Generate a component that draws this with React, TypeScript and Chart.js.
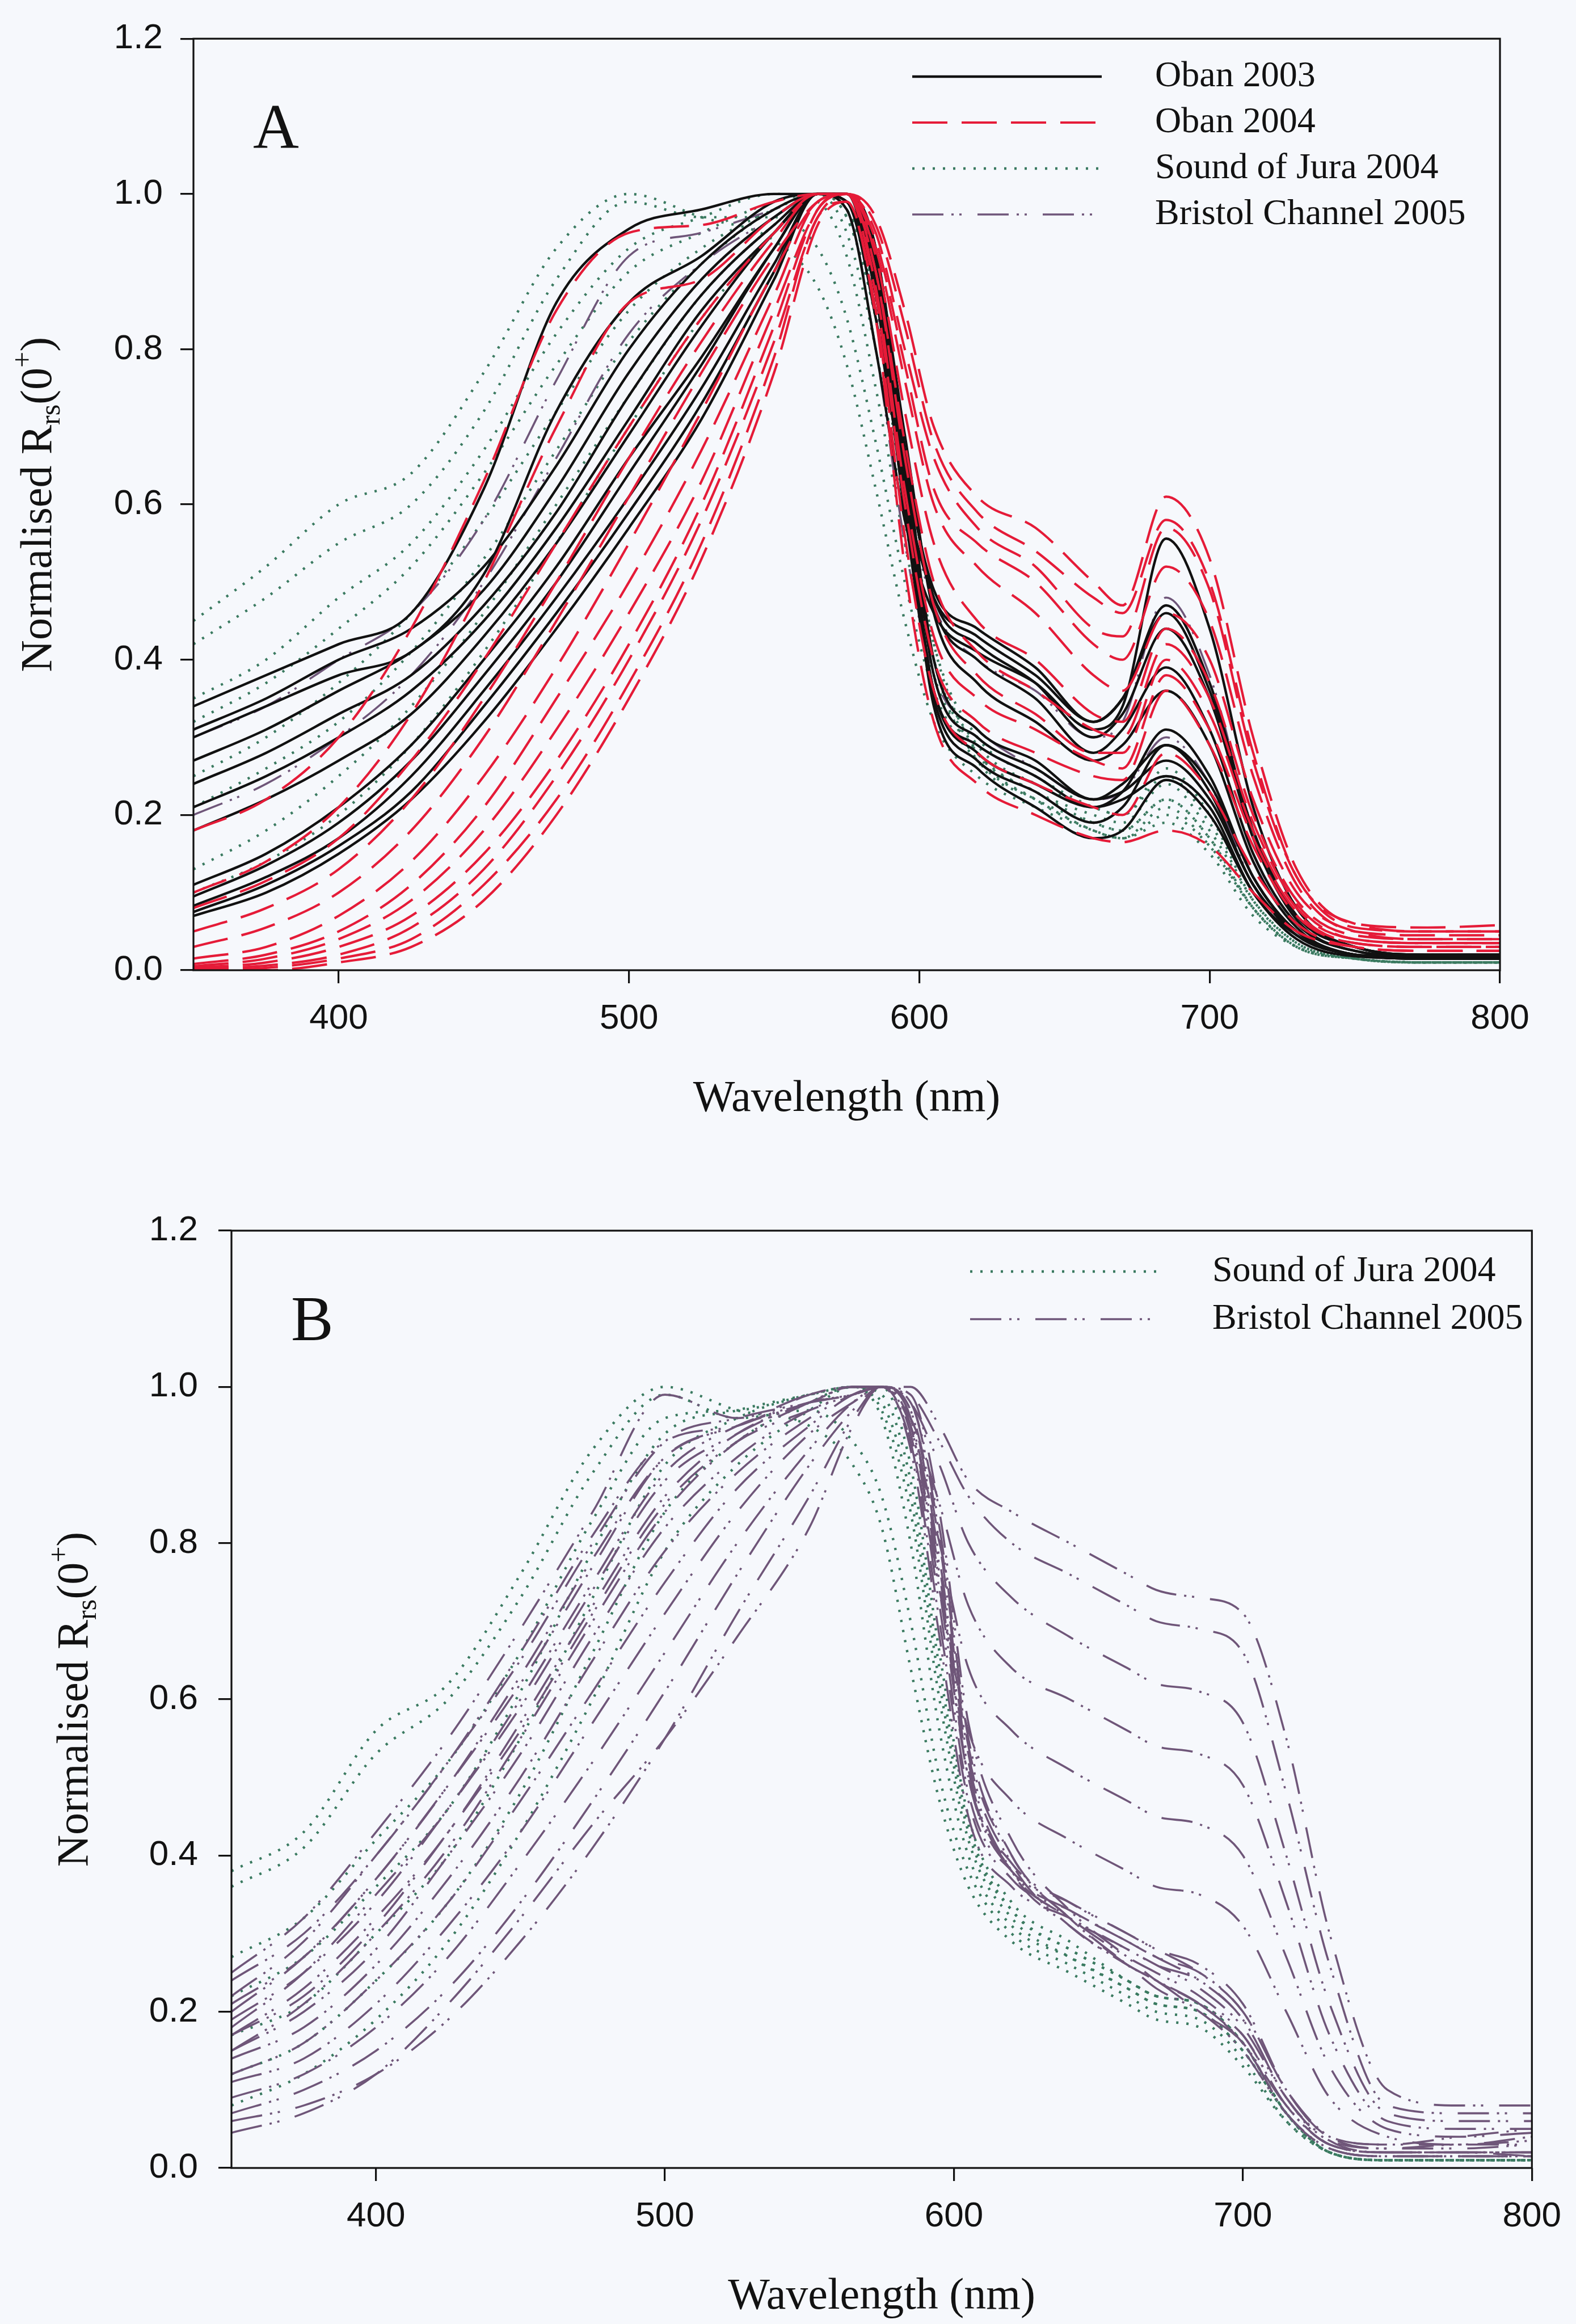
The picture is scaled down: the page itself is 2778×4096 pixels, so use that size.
import React, { useEffect, useRef } from 'react';
import { Chart, registerables } from 'chart.js';

Chart.register(...registerables);

// ---------------- data ----------------
const wavelengths = [350, 375, 400, 425, 450, 475, 500, 525, 550, 565, 575, 585, 595, 605, 620, 640, 660, 670, 685, 700, 715, 730, 750, 775, 800];
const xTickValues = [400, 500, 600, 700, 800];
const yTickValues = [0, 0.2, 0.4, 0.6, 0.8, 1.0, 1.2];
const xTitle = 'Wavelength (nm)';

// Panel A
const oban2003 = [
  [0.34, 0.38, 0.42, 0.46, 0.62, 0.86, 0.955, 0.98, 1.0, 1.0, 0.98, 0.80, 0.58, 0.46, 0.41, 0.37, 0.31, 0.34, 0.556, 0.44, 0.21, 0.08, 0.03, 0.02, 0.02],
  [0.30, 0.34, 0.38, 0.41, 0.51, 0.72, 0.86, 0.92, 0.99, 1.0, 0.99, 0.84, 0.62, 0.48, 0.43, 0.38, 0.32, 0.35, 0.47, 0.37, 0.18, 0.07, 0.03, 0.02, 0.02],
  [0.31, 0.35, 0.40, 0.44, 0.52, 0.65, 0.80, 0.91, 0.98, 1.0, 1.0, 0.87, 0.65, 0.49, 0.44, 0.39, 0.32, 0.35, 0.46, 0.36, 0.18, 0.07, 0.03, 0.02, 0.02],
  [0.27, 0.31, 0.36, 0.41, 0.49, 0.62, 0.77, 0.89, 0.97, 1.0, 1.0, 0.89, 0.66, 0.48, 0.42, 0.37, 0.30, 0.33, 0.44, 0.35, 0.17, 0.065, 0.025, 0.018, 0.018],
  [0.24, 0.28, 0.33, 0.38, 0.47, 0.59, 0.74, 0.87, 0.96, 1.0, 1.0, 0.91, 0.67, 0.47, 0.40, 0.35, 0.28, 0.31, 0.39, 0.31, 0.15, 0.06, 0.025, 0.018, 0.018],
  [0.21, 0.25, 0.30, 0.36, 0.45, 0.57, 0.71, 0.85, 0.95, 1.0, 1.0, 0.92, 0.69, 0.46, 0.37, 0.32, 0.27, 0.29, 0.36, 0.29, 0.14, 0.055, 0.02, 0.018, 0.018],
  [0.18, 0.22, 0.27, 0.33, 0.43, 0.55, 0.69, 0.83, 0.95, 1.0, 1.0, 0.93, 0.67, 0.40, 0.31, 0.27, 0.22, 0.24, 0.29, 0.24, 0.12, 0.05, 0.02, 0.015, 0.015],
  [0.11, 0.15, 0.21, 0.29, 0.40, 0.52, 0.66, 0.79, 0.93, 1.0, 0.99, 0.88, 0.60, 0.36, 0.28, 0.24, 0.21, 0.22, 0.25, 0.21, 0.10, 0.045, 0.02, 0.015, 0.015],
  [0.095, 0.135, 0.19, 0.27, 0.38, 0.50, 0.64, 0.78, 0.93, 1.0, 0.99, 0.87, 0.59, 0.35, 0.27, 0.23, 0.19, 0.21, 0.29, 0.23, 0.11, 0.05, 0.02, 0.015, 0.015],
  [0.083, 0.12, 0.17, 0.25, 0.36, 0.48, 0.61, 0.75, 0.91, 1.0, 1.0, 0.90, 0.62, 0.34, 0.26, 0.21, 0.17, 0.18, 0.245, 0.20, 0.10, 0.04, 0.018, 0.015, 0.015],
  [0.075, 0.11, 0.16, 0.23, 0.34, 0.46, 0.59, 0.73, 0.90, 1.0, 1.0, 0.91, 0.64, 0.36, 0.29, 0.25, 0.21, 0.23, 0.31, 0.25, 0.12, 0.05, 0.02, 0.015, 0.015],
  [0.07, 0.10, 0.15, 0.22, 0.32, 0.44, 0.57, 0.71, 0.89, 1.0, 1.0, 0.93, 0.66, 0.38, 0.30, 0.26, 0.22, 0.23, 0.27, 0.22, 0.11, 0.045, 0.02, 0.015, 0.015],
];

const oban2004 = [
  [0.18, 0.22, 0.30, 0.44, 0.63, 0.85, 0.95, 0.96, 0.99, 1.0, 1.0, 0.97, 0.85, 0.70, 0.61, 0.57, 0.50, 0.47, 0.61, 0.53, 0.30, 0.13, 0.06, 0.055, 0.058],
  [0.10, 0.14, 0.21, 0.33, 0.50, 0.70, 0.86, 0.89, 0.97, 1.0, 1.0, 0.96, 0.83, 0.68, 0.59, 0.54, 0.48, 0.46, 0.58, 0.50, 0.28, 0.12, 0.06, 0.05, 0.05],
  [0.08, 0.115, 0.17, 0.27, 0.40, 0.55, 0.70, 0.84, 0.95, 1.0, 1.0, 0.95, 0.80, 0.66, 0.57, 0.52, 0.44, 0.43, 0.57, 0.49, 0.27, 0.12, 0.055, 0.05, 0.05],
  [0.05, 0.08, 0.13, 0.22, 0.35, 0.50, 0.66, 0.81, 0.94, 1.0, 1.0, 0.94, 0.78, 0.62, 0.55, 0.50, 0.42, 0.40, 0.52, 0.45, 0.25, 0.11, 0.05, 0.045, 0.045],
  [0.03, 0.055, 0.10, 0.18, 0.30, 0.45, 0.61, 0.77, 0.92, 0.99, 1.0, 0.93, 0.76, 0.60, 0.52, 0.46, 0.38, 0.36, 0.46, 0.40, 0.22, 0.10, 0.05, 0.04, 0.04],
  [0.015, 0.03, 0.07, 0.14, 0.25, 0.39, 0.55, 0.72, 0.90, 0.99, 1.0, 0.92, 0.72, 0.55, 0.45, 0.40, 0.33, 0.32, 0.44, 0.37, 0.20, 0.09, 0.045, 0.04, 0.04],
  [0.008, 0.02, 0.05, 0.11, 0.21, 0.35, 0.50, 0.67, 0.87, 0.99, 1.0, 0.90, 0.68, 0.50, 0.41, 0.36, 0.31, 0.30, 0.42, 0.35, 0.19, 0.085, 0.04, 0.035, 0.035],
  [0.005, 0.015, 0.04, 0.09, 0.18, 0.31, 0.46, 0.63, 0.85, 0.98, 1.0, 0.90, 0.66, 0.47, 0.38, 0.33, 0.28, 0.28, 0.40, 0.33, 0.18, 0.08, 0.04, 0.035, 0.035],
  [0.003, 0.01, 0.03, 0.07, 0.15, 0.27, 0.42, 0.60, 0.83, 0.98, 1.0, 0.88, 0.62, 0.43, 0.35, 0.31, 0.27, 0.26, 0.38, 0.31, 0.17, 0.075, 0.035, 0.03, 0.03],
  [0.002, 0.006, 0.02, 0.055, 0.13, 0.25, 0.40, 0.58, 0.81, 0.97, 1.0, 0.87, 0.60, 0.40, 0.32, 0.28, 0.25, 0.245, 0.36, 0.29, 0.16, 0.07, 0.035, 0.03, 0.03],
  [0.0, 0.003, 0.015, 0.04, 0.11, 0.22, 0.37, 0.55, 0.79, 0.97, 0.99, 0.85, 0.56, 0.36, 0.28, 0.24, 0.21, 0.20, 0.28, 0.23, 0.13, 0.06, 0.03, 0.025, 0.025],
  [0.0, 0.0, 0.01, 0.03, 0.09, 0.20, 0.35, 0.53, 0.77, 0.96, 0.99, 0.84, 0.52, 0.32, 0.24, 0.20, 0.17, 0.165, 0.18, 0.16, 0.10, 0.05, 0.03, 0.025, 0.025],
];

const soundOfJuraA = [
  [0.45, 0.52, 0.60, 0.64, 0.77, 0.93, 1.0, 0.97, 0.94, 0.88, 0.78, 0.62, 0.45, 0.32, 0.25, 0.21, 0.18, 0.17, 0.21, 0.16, 0.08, 0.03, 0.015, 0.01, 0.01],
  [0.42, 0.48, 0.55, 0.60, 0.72, 0.89, 0.99, 0.97, 0.97, 0.93, 0.84, 0.68, 0.50, 0.36, 0.27, 0.22, 0.19, 0.18, 0.22, 0.17, 0.08, 0.03, 0.015, 0.01, 0.01],
  [0.35, 0.40, 0.48, 0.55, 0.67, 0.82, 0.93, 0.97, 1.0, 0.99, 0.92, 0.75, 0.55, 0.38, 0.28, 0.23, 0.20, 0.19, 0.24, 0.18, 0.09, 0.035, 0.015, 0.01, 0.01],
  [0.32, 0.37, 0.44, 0.52, 0.64, 0.78, 0.90, 0.95, 0.99, 1.0, 0.95, 0.80, 0.58, 0.40, 0.29, 0.24, 0.21, 0.20, 0.26, 0.20, 0.09, 0.035, 0.015, 0.01, 0.01],
  [0.25, 0.30, 0.37, 0.46, 0.58, 0.72, 0.85, 0.93, 0.98, 1.0, 0.97, 0.84, 0.62, 0.42, 0.30, 0.25, 0.21, 0.20, 0.25, 0.19, 0.09, 0.035, 0.015, 0.01, 0.01],
  [0.21, 0.26, 0.32, 0.41, 0.53, 0.67, 0.81, 0.91, 0.98, 1.0, 0.97, 0.84, 0.60, 0.40, 0.28, 0.23, 0.19, 0.18, 0.22, 0.17, 0.08, 0.03, 0.015, 0.01, 0.01],
  [0.13, 0.18, 0.25, 0.34, 0.46, 0.60, 0.74, 0.87, 0.96, 1.0, 0.98, 0.86, 0.62, 0.40, 0.27, 0.22, 0.18, 0.17, 0.20, 0.16, 0.08, 0.03, 0.015, 0.01, 0.01],
  [0.10, 0.14, 0.20, 0.29, 0.41, 0.55, 0.70, 0.84, 0.95, 1.0, 0.98, 0.87, 0.64, 0.42, 0.28, 0.22, 0.18, 0.17, 0.19, 0.15, 0.07, 0.03, 0.015, 0.01, 0.01],
];

const bristolChannelA = [
  [0.30, 0.34, 0.40, 0.46, 0.58, 0.76, 0.92, 0.95, 0.98, 1.0, 0.99, 0.85, 0.62, 0.47, 0.40, 0.36, 0.30, 0.32, 0.48, 0.38, 0.18, 0.07, 0.03, 0.02, 0.02],
  [0.20, 0.24, 0.30, 0.38, 0.50, 0.66, 0.82, 0.91, 0.97, 1.0, 0.98, 0.80, 0.55, 0.38, 0.31, 0.26, 0.22, 0.23, 0.30, 0.24, 0.11, 0.045, 0.02, 0.015, 0.015],
];

// Panel B
const soundOfJuraB = [
  [0.38, 0.43, 0.56, 0.62, 0.76, 0.92, 1.0, 0.97, 0.95, 0.90, 0.82, 0.64, 0.47, 0.36, 0.29, 0.25, 0.21, 0.19, 0.18, 0.13, 0.06, 0.02, 0.01, 0.01, 0.01],
  [0.36, 0.41, 0.53, 0.60, 0.73, 0.89, 0.99, 0.96, 0.97, 0.93, 0.86, 0.70, 0.50, 0.38, 0.30, 0.26, 0.22, 0.20, 0.19, 0.14, 0.06, 0.02, 0.01, 0.01, 0.01],
  [0.27, 0.32, 0.42, 0.52, 0.66, 0.83, 0.96, 0.97, 0.99, 1.0, 0.96, 0.80, 0.56, 0.40, 0.31, 0.27, 0.23, 0.21, 0.20, 0.15, 0.07, 0.02, 0.01, 0.01, 0.01],
  [0.22, 0.27, 0.36, 0.46, 0.61, 0.79, 0.94, 0.97, 0.99, 1.0, 0.97, 0.84, 0.60, 0.42, 0.32, 0.27, 0.23, 0.21, 0.20, 0.15, 0.07, 0.02, 0.01, 0.01, 0.01],
  [0.17, 0.21, 0.30, 0.40, 0.55, 0.73, 0.90, 0.96, 0.99, 1.0, 0.98, 0.86, 0.62, 0.43, 0.33, 0.28, 0.24, 0.22, 0.21, 0.16, 0.07, 0.02, 0.01, 0.01, 0.01],
  [0.12, 0.16, 0.24, 0.34, 0.48, 0.66, 0.84, 0.93, 0.98, 1.0, 0.99, 0.88, 0.64, 0.44, 0.33, 0.28, 0.24, 0.22, 0.21, 0.16, 0.07, 0.02, 0.01, 0.01, 0.01],
  [0.08, 0.12, 0.19, 0.29, 0.43, 0.60, 0.79, 0.90, 0.97, 1.0, 1.0, 0.90, 0.66, 0.45, 0.34, 0.29, 0.24, 0.22, 0.21, 0.16, 0.07, 0.02, 0.01, 0.01, 0.01],
];

const bristolChannelB = [
  [0.25, 0.32, 0.43, 0.55, 0.69, 0.84, 0.99, 0.96, 0.99, 1.0, 1.0, 1.0, 0.95, 0.88, 0.84, 0.80, 0.76, 0.74, 0.73, 0.71, 0.55, 0.30, 0.10, 0.08, 0.08],
  [0.22, 0.29, 0.40, 0.52, 0.66, 0.81, 0.93, 0.95, 0.99, 1.0, 1.0, 0.99, 0.93, 0.86, 0.80, 0.76, 0.72, 0.70, 0.69, 0.66, 0.48, 0.26, 0.08, 0.07, 0.07],
  [0.20, 0.27, 0.37, 0.49, 0.63, 0.78, 0.91, 0.95, 0.98, 1.0, 1.0, 0.98, 0.90, 0.80, 0.73, 0.68, 0.64, 0.62, 0.61, 0.57, 0.40, 0.21, 0.07, 0.06, 0.06],
  [0.18, 0.25, 0.35, 0.46, 0.60, 0.75, 0.89, 0.95, 0.98, 1.0, 1.0, 0.96, 0.85, 0.72, 0.64, 0.60, 0.56, 0.54, 0.53, 0.49, 0.34, 0.17, 0.06, 0.05, 0.05],
  [0.17, 0.23, 0.32, 0.43, 0.57, 0.72, 0.86, 0.94, 0.98, 1.0, 1.0, 0.95, 0.80, 0.64, 0.56, 0.51, 0.47, 0.45, 0.44, 0.40, 0.27, 0.13, 0.05, 0.04, 0.045],
  [0.15, 0.21, 0.30, 0.41, 0.55, 0.70, 0.84, 0.93, 0.98, 1.0, 1.0, 0.93, 0.74, 0.56, 0.47, 0.42, 0.38, 0.36, 0.35, 0.31, 0.20, 0.09, 0.04, 0.03, 0.035],
  [0.24, 0.30, 0.40, 0.52, 0.65, 0.80, 0.93, 0.96, 0.98, 0.99, 1.0, 0.93, 0.70, 0.47, 0.37, 0.33, 0.29, 0.27, 0.25, 0.20, 0.10, 0.04, 0.03, 0.03, 0.04],
  [0.21, 0.27, 0.37, 0.49, 0.62, 0.77, 0.91, 0.95, 0.98, 0.99, 1.0, 0.92, 0.68, 0.45, 0.36, 0.32, 0.28, 0.26, 0.24, 0.19, 0.09, 0.035, 0.025, 0.03, 0.03],
  [0.19, 0.25, 0.34, 0.46, 0.59, 0.74, 0.88, 0.94, 0.98, 0.99, 1.0, 0.94, 0.72, 0.48, 0.38, 0.34, 0.30, 0.28, 0.26, 0.21, 0.10, 0.04, 0.03, 0.04, 0.05],
  [0.17, 0.22, 0.31, 0.43, 0.56, 0.71, 0.85, 0.93, 0.97, 0.99, 1.0, 0.95, 0.74, 0.50, 0.39, 0.34, 0.30, 0.28, 0.25, 0.20, 0.10, 0.04, 0.025, 0.025, 0.03],
  [0.15, 0.20, 0.28, 0.40, 0.53, 0.68, 0.82, 0.91, 0.97, 0.99, 1.0, 0.95, 0.75, 0.50, 0.38, 0.33, 0.29, 0.27, 0.24, 0.19, 0.09, 0.035, 0.02, 0.02, 0.02],
  [0.14, 0.18, 0.26, 0.37, 0.50, 0.65, 0.79, 0.89, 0.96, 0.99, 1.0, 0.96, 0.76, 0.50, 0.38, 0.32, 0.28, 0.26, 0.23, 0.18, 0.09, 0.03, 0.02, 0.02, 0.02],
  [0.12, 0.16, 0.24, 0.34, 0.47, 0.61, 0.75, 0.87, 0.95, 0.99, 1.0, 0.96, 0.77, 0.51, 0.38, 0.32, 0.27, 0.25, 0.22, 0.17, 0.08, 0.03, 0.02, 0.02, 0.02],
  [0.11, 0.14, 0.21, 0.31, 0.43, 0.57, 0.71, 0.84, 0.94, 0.98, 1.0, 0.97, 0.78, 0.52, 0.38, 0.31, 0.26, 0.24, 0.21, 0.17, 0.08, 0.03, 0.02, 0.02, 0.02],
  [0.09, 0.12, 0.18, 0.27, 0.39, 0.52, 0.66, 0.80, 0.92, 0.98, 1.0, 0.97, 0.80, 0.53, 0.39, 0.31, 0.26, 0.24, 0.21, 0.16, 0.08, 0.03, 0.02, 0.02, 0.015],
  [0.07, 0.10, 0.15, 0.23, 0.34, 0.47, 0.61, 0.76, 0.90, 0.97, 1.0, 0.98, 0.81, 0.54, 0.40, 0.32, 0.26, 0.24, 0.20, 0.16, 0.07, 0.025, 0.015, 0.015, 0.015],
  [0.06, 0.08, 0.12, 0.19, 0.29, 0.41, 0.55, 0.71, 0.86, 0.96, 1.0, 0.98, 0.82, 0.55, 0.40, 0.32, 0.26, 0.23, 0.20, 0.15, 0.07, 0.025, 0.015, 0.015, 0.015],
  [0.045, 0.07, 0.12, 0.21, 0.32, 0.44, 0.55, 0.68, 0.82, 0.95, 1.0, 0.99, 0.84, 0.57, 0.42, 0.33, 0.27, 0.24, 0.21, 0.16, 0.07, 0.025, 0.015, 0.015, 0.015],
];

const legendLabelsA = ['Oban 2003', 'Oban 2004', 'Sound of Jura 2004', 'Bristol Channel 2005'];
const legendLabelsB = ['Sound of Jura 2004', 'Bristol Channel 2005'];

// ---------------- styles ----------------
const INK = '#121212';
const SERIF = '"Liberation Serif", "Times New Roman", Times, serif';
const SANS = '"Liberation Sans", Arial, Helvetica, sans-serif';

const styleBlack = { color: '#111111', dash: [] as number[], width: 4.4 };
const styleRed = { color: '#e51b38', dash: [62, 25], width: 4.2 };
const styleGreen = { color: '#3a7a60', dash: [4, 14], width: 4.4 };
const stylePurple = { color: '#6f5679', dash: [55, 14, 4, 10, 4, 28], width: 3.6 };

function makeSets(group: number[][], style: any, order: number, label: string) {
  return group.map((vals) => ({
    label,
    data: wavelengths.map((x, j) => ({ x, y: vals[j] })),
    borderColor: style.color,
    borderDash: style.dash,
    borderWidth: style.width,
    borderCapStyle: 'butt',
    pointRadius: 0,
    fill: false,
    cubicInterpolationMode: 'monotone',
    order,
  }));
}

function drawYTitle(ctx: CanvasRenderingContext2D, bx: number, cy: number) {
  const main = `78px ${SERIF}`;
  const small = `50px ${SERIF}`;
  const parts = [
    { t: 'Normalised R', f: main, dy: 0 },
    { t: 'rs', f: small, dy: 15 },
    { t: '(0', f: main, dy: 0 },
    { t: '+', f: small, dy: -34 },
    { t: ')', f: main, dy: 0 },
  ];
  ctx.save();
  ctx.translate(bx, cy);
  ctx.rotate(-Math.PI / 2);
  ctx.textAlign = 'left';
  ctx.textBaseline = 'alphabetic';
  const widths = parts.map((p) => {
    ctx.font = p.f;
    return ctx.measureText(p.t).width;
  });
  const total = widths.reduce((a, b) => a + b, 0);
  let x = -total / 2;
  parts.forEach((p, i) => {
    ctx.font = p.f;
    ctx.fillText(p.t, x, p.dy);
    x += widths[i];
  });
  ctx.restore();
}

type Panel = {
  top: number;
  height: number;
  area: { left: number; right: number; top: number; bottom: number };
  yTickPad: number;
  datasets: any[];
  letter: string;
  legend: { label: string; style: any }[];
  legendLine: [number, number];
  legendTextX: number;
  legendRows: number[];
  yTitleX: number;
};

const WIDTH = 2778;

const panels: Panel[] = [
  {
    top: 0,
    height: 2080,
    area: { left: 341, right: 2644, top: 59, bottom: 1710 },
    yTickPad: 31,
    datasets: [
      ...makeSets(oban2004, styleRed, 0, legendLabelsA[1]),
      ...makeSets(oban2003, styleBlack, 1, legendLabelsA[0]),
      ...makeSets(bristolChannelA, stylePurple, 2, legendLabelsA[3]),
      ...makeSets(soundOfJuraA, styleGreen, 3, legendLabelsA[2]),
    ],
    letter: 'A',
    legend: [
      { label: legendLabelsA[0], style: styleBlack },
      { label: legendLabelsA[1], style: styleRed },
      { label: legendLabelsA[2], style: styleGreen },
      { label: legendLabelsA[3], style: stylePurple },
    ],
    legendLine: [1608, 1942],
    legendTextX: 2036,
    legendRows: [135, 216, 297, 378],
    yTitleX: 90,
  },
  {
    top: 2080,
    height: 2016,
    area: { left: 408, right: 2713, top: 89, bottom: 1741 },
    yTickPad: 36,
    datasets: [
      ...makeSets(bristolChannelB, stylePurple, 0, legendLabelsB[1]),
      ...makeSets(soundOfJuraB, styleGreen, 1, legendLabelsB[0]),
    ],
    letter: 'B',
    legend: [
      { label: legendLabelsB[0], style: styleGreen },
      { label: legendLabelsB[1], style: stylePurple },
    ],
    legendLine: [1710, 2045],
    legendTextX: 2137,
    legendRows: [161, 245],
    yTitleX: 154,
  },
];

function makeDecor(p: Panel) {
  return {
    id: 'decor' + p.letter,
    afterDraw(chart: any) {
      const ctx: CanvasRenderingContext2D = chart.ctx;
      const a = chart.chartArea;
      ctx.save();
      ctx.setLineDash([]);
      ctx.strokeStyle = INK;
      ctx.lineWidth = 3.2;
      ctx.strokeRect(a.left, a.top, a.right - a.left, a.bottom - a.top);
      ctx.fillStyle = INK;
      ctx.font = `112px ${SERIF}`;
      ctx.textAlign = 'left';
      ctx.textBaseline = 'alphabetic';
      ctx.fillText(p.letter, a.left + 105, a.top + 193);
      ctx.font = `78px ${SERIF}`;
      ctx.textAlign = 'center';
      ctx.fillText(xTitle, (a.left + a.right) / 2, a.bottom + 248);
      drawYTitle(ctx, p.yTitleX, (a.top + a.bottom) / 2);
      p.legend.forEach((item, i) => {
        const y = p.legendRows[i];
        ctx.save();
        ctx.strokeStyle = item.style.color;
        ctx.lineWidth = item.style.width;
        ctx.lineCap = 'butt';
        ctx.setLineDash(item.style.dash);
        ctx.beginPath();
        ctx.moveTo(p.legendLine[0], y);
        ctx.lineTo(p.legendLine[1], y);
        ctx.stroke();
        ctx.restore();
        ctx.fillStyle = INK;
        ctx.font = `64px ${SERIF}`;
        ctx.textAlign = 'left';
        ctx.textBaseline = 'middle';
        ctx.fillText(item.label, p.legendTextX, y);
      });
      ctx.restore();
    },
  };
}

function buildConfig(p: Panel): any {
  const gridOpts = {
    display: true,
    drawOnChartArea: false,
    drawTicks: true,
    tickLength: 23,
    tickWidth: 3.2,
    tickColor: INK,
    color: INK,
    lineWidth: 3.2,
  };
  return {
    type: 'line',
    data: { datasets: p.datasets },
    options: {
      animation: false,
      responsive: false,
      devicePixelRatio: 1,
      events: [],
      layout: {
        padding: { top: p.area.top, right: WIDTH - p.area.right, left: 0, bottom: 0 },
      },
      plugins: {
        legend: { display: false },
        tooltip: { enabled: false },
        title: { display: false },
      },
      scales: {
        x: {
          type: 'linear',
          min: 350,
          max: 800,
          afterBuildTicks: (s: any) => {
            s.ticks = xTickValues.map((v) => ({ value: v }));
          },
          afterFit: (s: any) => {
            s.height = p.height - p.area.bottom;
          },
          ticks: {
            font: { family: SANS, size: 62 },
            color: INK,
            padding: 26,
            maxRotation: 0,
            autoSkip: false,
            callback: (v: any) => String(v),
          },
          grid: gridOpts,
          border: { display: false },
        },
        y: {
          type: 'linear',
          min: 0,
          max: 1.2,
          afterBuildTicks: (s: any) => {
            s.ticks = yTickValues.map((v) => ({ value: v }));
          },
          afterFit: (s: any) => {
            s.width = p.area.left;
          },
          ticks: {
            font: { family: SANS, size: 62 },
            color: INK,
            padding: p.yTickPad,
            autoSkip: false,
            callback: (v: any) => Number(v).toFixed(1),
          },
          grid: gridOpts,
          border: { display: false },
        },
      },
    },
    plugins: [makeDecor(p)],
  };
}

function PanelChart({ p }: { p: Panel }) {
  const ref = useRef<HTMLCanvasElement | null>(null);
  useEffect(() => {
    if (!ref.current) return;
    const chart = new Chart(ref.current, buildConfig(p));
    return () => chart.destroy();
  }, [p]);
  return (
    <canvas
      ref={ref}
      width={WIDTH}
      height={p.height}
      style={{ position: 'absolute', left: 0, top: p.top, width: WIDTH, height: p.height, display: 'block' }}
    />
  );
}

export default function App() {
  return (
    <div
      style={{
        position: 'absolute',
        left: 0,
        top: 0,
        width: WIDTH,
        height: 4096,
        background: '#f6f8fc',
        overflow: 'hidden',
      }}
    >
      {panels.map((p) => (
        <PanelChart key={p.letter} p={p} />
      ))}
    </div>
  );
}
